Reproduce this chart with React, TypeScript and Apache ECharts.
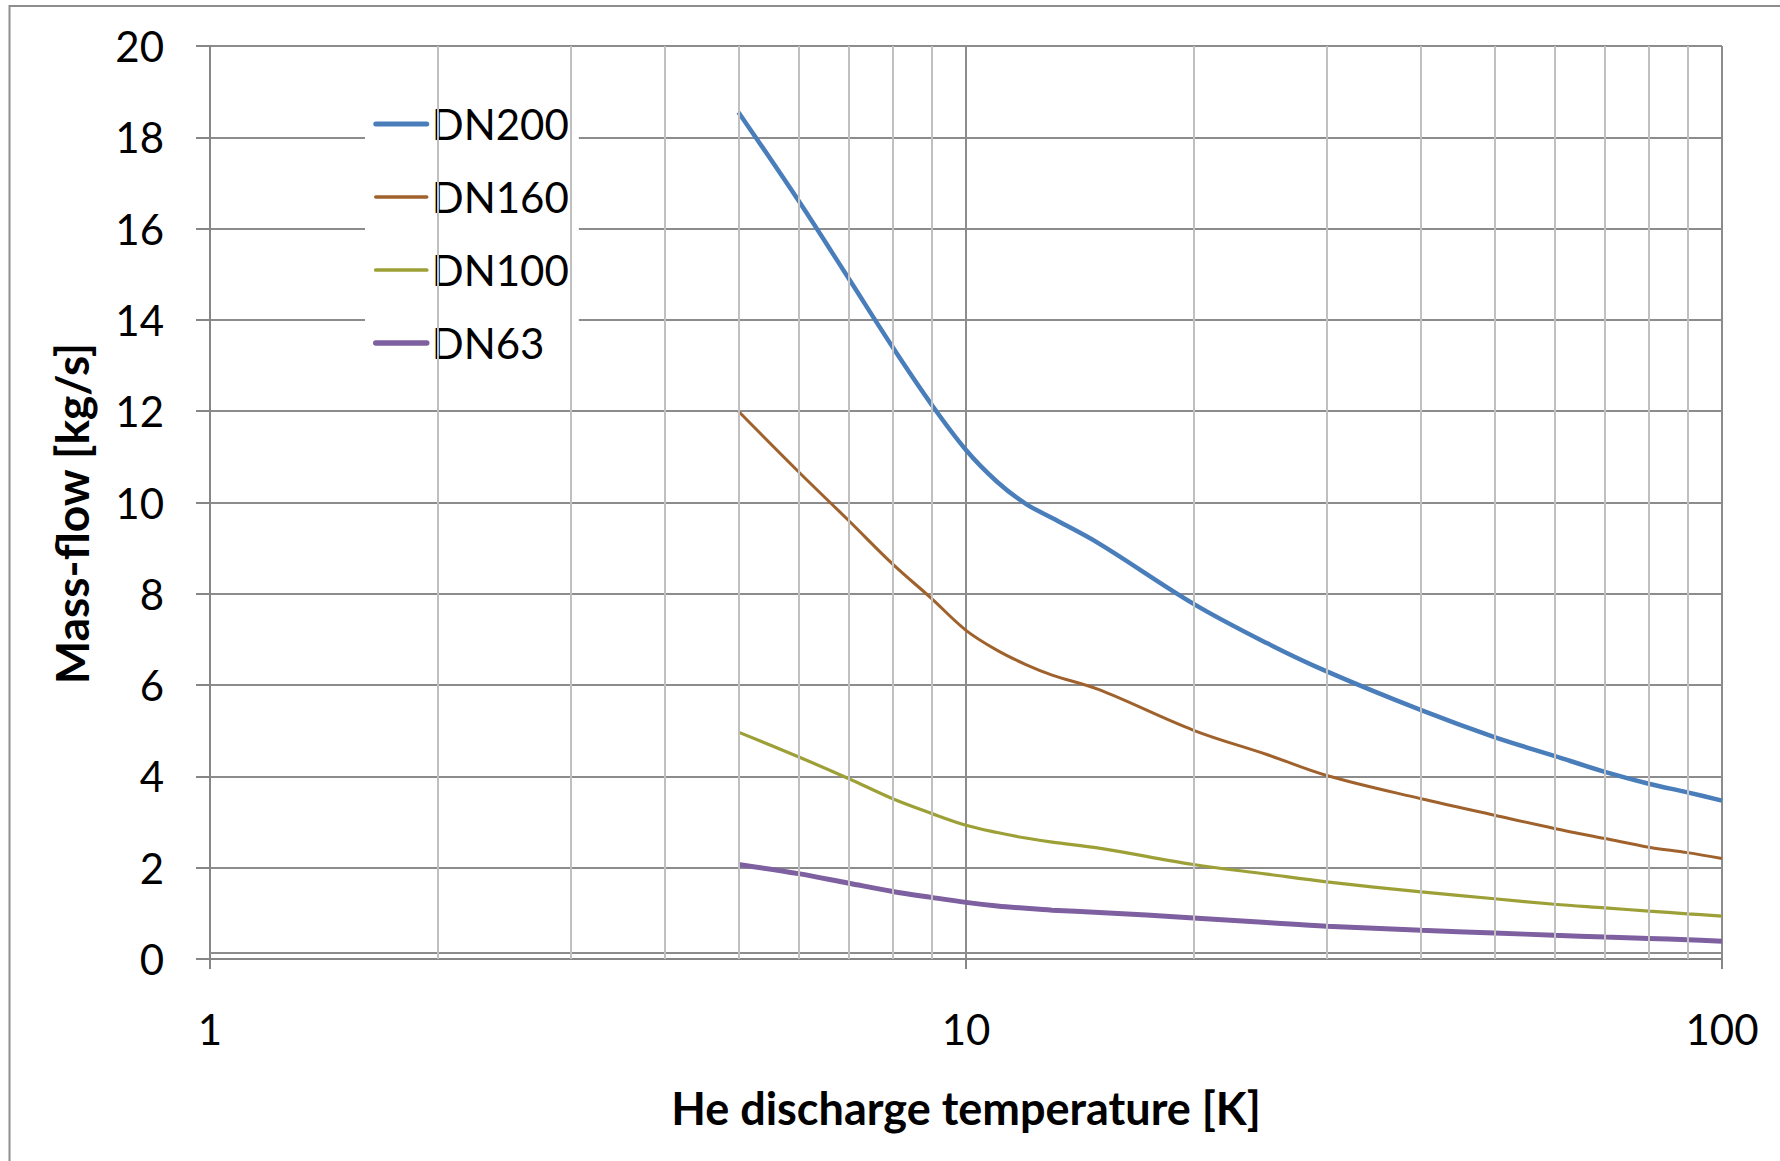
import React, { useEffect, useRef } from "react";
import * as echarts from "echarts";

const temperatures = [5, 6, 7, 8, 9, 10, 11, 12, 13, 15, 20, 25, 30, 40, 50, 60, 70, 80, 90, 100];
const dn200 = [18.55, 16.62, 14.9, 13.4, 12.15, 11.15, 10.45, 9.97, 9.66, 9.1, 7.78, 6.92, 6.3, 5.45, 4.86, 4.45, 4.1, 3.84, 3.65, 3.47];
const dn160 = [12.0, 10.68, 9.6, 8.65, 7.9, 7.2, 6.76, 6.45, 6.22, 5.9, 5.01, 4.48, 4.02, 3.51, 3.15, 2.86, 2.64, 2.45, 2.33, 2.2];
const dn100 = [4.97, 4.43, 3.95, 3.51, 3.19, 2.93, 2.77, 2.65, 2.56, 2.43, 2.07, 1.86, 1.69, 1.47, 1.32, 1.2, 1.12, 1.05, 0.99, 0.94];
const dn63 = [2.07, 1.87, 1.66, 1.48, 1.35, 1.24, 1.16, 1.11, 1.07, 1.02, 0.9, 0.8, 0.72, 0.63, 0.57, 0.52, 0.48, 0.45, 0.42, 0.39];

const seriesNames = ["DN200", "DN160", "DN100", "DN63"];
const seriesValues = [dn200, dn160, dn100, dn63];
const seriesColors = ["#4A7EBB", "#A0622D", "#9DA036", "#7E60A0"];
const seriesWidths = [4.5, 3, 3.2, 5];

const minorTicks = [2, 3, 4, 5, 6, 7, 8, 9, 20, 30, 40, 50, 60, 70, 80, 90];

const FONT = "Lato";

export default function App() {
  const ref = useRef<HTMLDivElement>(null);
  useEffect(() => {
    document.body.style.margin = "0";
    const chart = echarts.init(ref.current!, null, { renderer: "svg" });
    const lines = seriesNames.map((name, i) => ({
      name,
      type: "line",
      z: 3,
      symbol: "none",
      smooth: 0.35,
      data: temperatures.map((t, j) => [t, seriesValues[i][j]]),
      lineStyle: { color: seriesColors[i], width: seriesWidths[i] },
      itemStyle: { color: seriesColors[i] },
    }));
    chart.setOption({
      animation: false,
      backgroundColor: "#ffffff",
      textStyle: { fontFamily: FONT },
      grid: { left: 210, top: 46, width: 1512, height: 913, containLabel: false },
      legend: {
        data: seriesNames.map((name, i) => ({
          name,
          itemStyle: { opacity: 0 },
          lineStyle: { color: seriesColors[i], width: seriesWidths[i] + 0.5, cap: "round" },
        })),
        orient: "vertical",
        left: 365,
        top: 88,
        padding: [14, 10, 14, 8],
        itemGap: 29,
        itemWidth: 51,
        itemHeight: 14,
        backgroundColor: "#ffffff",
        textStyle: { fontFamily: FONT, fontSize: 42, color: "#000", lineHeight: 44 },
      },
      xAxis: {
        type: "log",
        logBase: 10,
        min: 1,
        max: 100,
        name: "He discharge temperature [K]",
        nameLocation: "middle",
        nameGap: 126,
        nameTextStyle: { fontFamily: FONT, fontSize: 45, fontWeight: "bold", color: "#000" },
        axisLine: { show: true, lineStyle: { color: "#868686", width: 2 } },
        axisTick: { show: true, length: 10, lineStyle: { color: "#868686", width: 2 } },
        axisLabel: { fontFamily: FONT, fontSize: 42, color: "#000", margin: 49 },
        splitLine: { show: true, lineStyle: { color: "#8c8c8c", width: 2 } },
        minorTick: { show: false },
      },
      yAxis: {
        type: "value",
        min: 0,
        max: 20,
        interval: 2,
        name: "Mass-flow [kg/s]",
        nameLocation: "middle",
        nameGap: 116,
        nameRotate: 90,
        nameTextStyle: { fontFamily: FONT, fontSize: 46, fontWeight: "bold", color: "#000", padding: [0, 22, 0, 0] },
        axisLine: { show: true, lineStyle: { color: "#868686", width: 2 } },
        axisTick: { show: true, length: 14, lineStyle: { color: "#868686", width: 2 } },
        axisLabel: { fontFamily: FONT, fontSize: 42, color: "#000", margin: 46 },
        splitLine: { show: true, lineStyle: { color: "#8c8c8c", width: 2 } },
      },
      graphic: [
        {
          type: "polyline",
          silent: true,
          shape: { points: [[9.5, 1161], [9.5, 6], [1780, 6]] },
          style: { stroke: "#8e8e8e", lineWidth: 2, fill: "none" },
        },
        {
          type: "line",
          silent: true,
          z: 1,
          shape: { x1: 210, y1: 953, x2: 1722, y2: 953 },
          style: { stroke: "#8c8c8c", lineWidth: 2 },
        },
      ],
      series: [
        {
          name: "minor",
          type: "line",
          z: 1,
          data: [],
          silent: true,
          markLine: {
            silent: true,
            symbol: "none",
            label: { show: false },
            lineStyle: { color: "#c0c0c0", width: 2, type: "solid" },
            data: minorTicks.map((v) => ({ xAxis: v })),
          },
        },
        ...lines,
      ],
    });
    return () => chart.dispose();
  }, []);
  return <div ref={ref} style={{ position: "absolute", left: 0, top: 0, width: 1780, height: 1161 }} />;
}
